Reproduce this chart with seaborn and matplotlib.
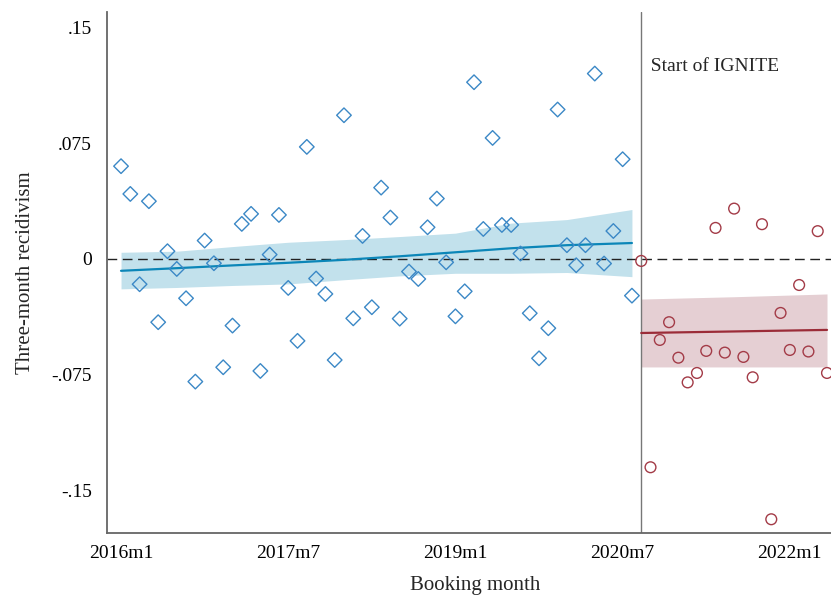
import matplotlib
matplotlib.use("Agg")
import matplotlib.pyplot as plt
import numpy as np
import pandas as pd
import seaborn as sns

# Months counted from 2016m1 (= 0)
pre_months = np.arange(0, 56)
pre_recid = [
    0.0601, 0.0421, -0.0164, 0.0374, -0.0410, 0.0050, -0.0065, -0.0255,
    -0.0795, 0.0119, -0.0028, -0.0702, -0.0432, 0.0227, 0.0292, -0.0726,
    0.0028, 0.0285, -0.0188, -0.0531, 0.0726, -0.0127, -0.0227, -0.0655,
    0.0931, -0.0385, 0.0149, -0.0313, 0.0462, 0.0268, -0.0387, -0.0082,
    -0.0130, 0.0205, 0.0391, -0.0022, -0.0372, -0.0210, 0.1145, 0.0194,
    0.0784, 0.0220, 0.0220, 0.0035, -0.0352, -0.0644, -0.0449, 0.0968,
    0.0089, -0.0041, 0.0089, 0.1201, -0.0030, 0.0181, 0.0646, -0.0238,
]

post_months = np.arange(56, 77)
post_recid = [
    -0.0013, -0.1350, -0.0525, -0.0410, -0.0640, -0.0800, -0.0739, -0.0596,
    0.0201, -0.0607, 0.0326, -0.0635, -0.0767, 0.0225, -0.1687, -0.0350,
    -0.0590, -0.0169, -0.0600, 0.0180, -0.0739,
]

# Smoothed fit and confidence band
pre_fit_months = [0, 6, 12, 18, 24, 30, 36, 42, 48, 55]
pre_fit = [-0.0077, -0.0060, -0.0042, -0.0025, -0.0006, 0.0017, 0.0043, 0.0069, 0.0089, 0.0103]
pre_hi = [0.0043, 0.0050, 0.0080, 0.0108, 0.0125, 0.0145, 0.0167, 0.0232, 0.0255, 0.0320]
pre_lo = [-0.0194, -0.0185, -0.0172, -0.0162, -0.0135, -0.0110, -0.0093, -0.0093, -0.0088, -0.0115]

post_fit_months = [56, 66, 76]
post_fit = [-0.0480, -0.0470, -0.0460]
post_hi = [-0.0260, -0.0245, -0.0227]
post_lo = [-0.0700, -0.0700, -0.0700]

tick_months = [0, 18, 36, 54, 72]
tick_labels = ["2016m1", "2017m7", "2019m1", "2020m7", "2022m1"]
ytick_vals = [0.15, 0.075, 0, -0.075, -0.15]
ytick_labels = [".15", ".075", "0", "-.075", "-.15"]
ignite_start = 56

sns.set_theme(style="white")
plt.rcParams["font.family"] = ["Liberation Serif", "DejaVu Serif"]

blue_pt = "#3b88c6"
blue_line = "#0b86b8"
blue_band = "#c2e1ec"
red_pt = "#a33b47"
red_line = "#9b2c38"
red_band = "#e5cfd3"

fig = plt.figure(figsize=(8.31, 6.0), dpi=100)
ax = fig.add_axes([107 / 831, 1 - 533 / 600, 1 - 107 / 831, (533 - 12) / 600])

pre = pd.DataFrame({"month": pre_months, "recid": pre_recid})
post = pd.DataFrame({"month": post_months, "recid": post_recid})

ax.fill_between(pre_fit_months, pre_lo, pre_hi, color=blue_band, lw=0, zorder=1)
ax.fill_between(post_fit_months, post_lo, post_hi, color=red_band, lw=0, zorder=1)

ax.axhline(0, color="#222222", lw=1.0, ls=(0, (7, 4)), zorder=2)
ax.axvline(ignite_start, color="#777777", lw=1.0, zorder=2)

sns.lineplot(x=pre_fit_months, y=pre_fit, ax=ax, color=blue_line, lw=1.6, zorder=3)
sns.lineplot(x=post_fit_months, y=post_fit, ax=ax, color=red_line, lw=1.6, zorder=3)

sns.scatterplot(data=pre, x="month", y="recid", ax=ax, marker="D", s=55,
                facecolor="none", edgecolor=blue_pt, linewidth=1.0, zorder=4)
sns.scatterplot(data=post, x="month", y="recid", ax=ax, marker="o", s=60,
                facecolor="none", edgecolor=red_pt, linewidth=1.0, zorder=4)

ax.text(ignite_start, 0.1244, "  Start of IGNITE", fontsize=14, va="center", ha="left")

ax.set_xlim(-1.51, 76.43)
ax.set_ylim(-0.1776, 0.160)
ax.set_xticks(tick_months)
ax.set_xticklabels(tick_labels)
ax.set_yticks(ytick_vals)
ax.set_yticklabels(ytick_labels)
ax.tick_params(axis="both", length=0, labelsize=14, colors="black")
ax.tick_params(axis="x", pad=9)
ax.tick_params(axis="y", pad=11)

ax.set_xlabel("Booking month", fontsize=15)
ax.set_ylabel("Three-month recidivism", fontsize=15)
ax.xaxis.set_label_coords(0.508, -0.082)
ax.yaxis.set_label_coords(-0.099, 0.5)

sns.despine(ax=ax)
for side in ["left", "bottom"]:
    ax.spines[side].set_color("#666666")
    ax.spines[side].set_linewidth(1.3)
ax.grid(False)

fig.savefig("out.png", dpi=100)
